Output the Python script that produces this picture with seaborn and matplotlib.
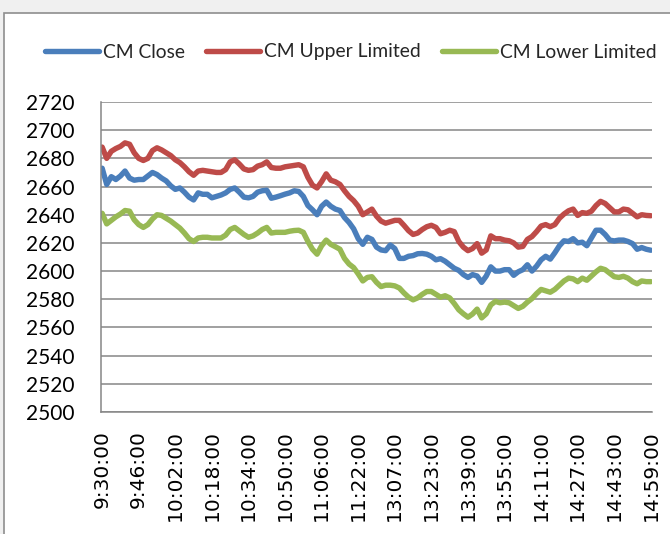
import numpy as np
import pandas as pd
import matplotlib
matplotlib.use("Agg")
import matplotlib.pyplot as plt
from matplotlib.lines import Line2D
from matplotlib.patches import Rectangle
import seaborn as sns

# --- category axis: one slot per trading minute, lunch break skipped ---
morning = pd.date_range("2000-01-01 09:30", "2000-01-01 11:30", freq="min")
afternoon = pd.date_range("2000-01-01 13:00", "2000-01-01 14:59", freq="min")
categories = [f"{t.hour}:{t.minute:02d}:00" for t in list(morning) + list(afternoon)]
label_step = 16    # a tick label every 16 minutes
sample_step = 2    # values every 2 minutes

# values, one per sample_step minutes
cm_close = [
    2673, 2661.5, 2667, 2665, 2667.5, 2671, 2666, 2664.5, 2665, 2665,
    2667.5, 2670, 2668.5, 2666, 2664, 2660.5, 2658, 2659, 2656, 2652.5,
    2650.5, 2655.5, 2654.5, 2654.5, 2652, 2653, 2654, 2655.5, 2658, 2659,
    2656, 2652.5, 2652, 2653, 2656, 2657, 2657.4, 2651.7, 2652.5, 2653.5,
    2654.6, 2655.5, 2657, 2656.5, 2653, 2646.5, 2643.5, 2640, 2646, 2649,
    2646, 2644, 2643, 2638, 2634.5, 2630, 2623, 2619, 2624, 2622.5,
    2617, 2615, 2614.5, 2618.5, 2616, 2609, 2609, 2610.5, 2611, 2612.3,
    2612.5, 2612, 2610.5, 2608, 2608.8, 2607, 2604.5, 2602, 2600.5, 2597.5,
    2595.5, 2597.5, 2596.5, 2592, 2596.5, 2603, 2600, 2600, 2601, 2601,
    2597, 2599.5, 2601, 2604.5, 2600, 2603.5, 2608, 2610.5, 2608.5, 2613,
    2618, 2621.5, 2621, 2623, 2620, 2620.5, 2618, 2623.5, 2629, 2629,
    2626, 2622, 2621.4, 2622, 2622, 2621, 2619.5, 2615.5, 2616.7, 2615.5,
    2614.8,
]
cm_upper = [
    2688, 2680, 2685, 2687, 2688.5, 2691, 2690, 2684, 2680, 2678.5,
    2680, 2685.5, 2687.5, 2686, 2684, 2682, 2679, 2677, 2674, 2670.5,
    2668, 2671, 2671.5, 2671, 2670.5, 2670, 2670, 2672, 2677.5, 2679,
    2676, 2672.5, 2671.5, 2672, 2674.5, 2675.5, 2677.5, 2673.5, 2673, 2673,
    2674, 2674.5, 2675, 2675.5, 2674, 2666.5, 2661, 2659, 2663.5, 2669,
    2664.5, 2663.4, 2661.5, 2657, 2653, 2650, 2646, 2640, 2642, 2644,
    2639, 2635.5, 2634, 2635, 2636, 2636, 2632.5, 2628.7, 2626, 2627,
    2629.5, 2631.5, 2632.5, 2631, 2626.5, 2627.5, 2629, 2628, 2621, 2617,
    2614.5, 2616, 2619.5, 2612.7, 2615, 2625, 2623, 2623, 2622, 2621.5,
    2620, 2617, 2617.5, 2622.5, 2624.5, 2628, 2632, 2633, 2631.5, 2633,
    2637.5, 2640.5, 2642.8, 2644, 2639.5, 2641.5, 2641, 2642.5, 2646.5, 2649.5,
    2648, 2645, 2642, 2642, 2644, 2643.5, 2641, 2638.5, 2640, 2639.5,
    2639.3,
]
cm_lower = [
    2641, 2633.5, 2636, 2638.5, 2640.5, 2643, 2642.5, 2636.5, 2633, 2631,
    2633, 2637, 2640, 2639.5, 2637.5, 2635.5, 2633, 2630.5, 2627, 2623,
    2621, 2623.5, 2624, 2624, 2623.5, 2623.5, 2623.5, 2625.5, 2629.5, 2631,
    2628.5, 2626, 2624, 2625, 2627, 2629.5, 2631, 2627, 2627.5, 2627.5,
    2627.5, 2628.3, 2628.8, 2629, 2627.5, 2621, 2615.5, 2612, 2618, 2622,
    2619, 2617.3, 2615.5, 2609, 2605, 2602.5, 2598, 2593, 2595.5, 2596,
    2592, 2589, 2590, 2590, 2589.5, 2588, 2584.5, 2581.5, 2579.6, 2581,
    2583.5, 2585.5, 2585.5, 2583.5, 2581.5, 2582.5, 2581, 2577, 2572.5, 2569.7,
    2567.3, 2569.5, 2573, 2566.8, 2569.7, 2576, 2578.5, 2577.5, 2578, 2577.5,
    2575.5, 2573.5, 2575, 2578, 2580.5, 2584, 2587, 2586, 2585, 2587,
    2590, 2593, 2595, 2594.5, 2592.5, 2595, 2593.5, 2596.5, 2599.5, 2602,
    2601, 2598.5, 2596, 2595.5, 2596.3, 2595, 2592.5, 2591, 2593, 2592.5,
    2592.5,
]

series_names = ["CM Close", "CM Upper Limited", "CM Lower Limited"]
series_colors = ["#4a7ebb", "#be4b48", "#98b954"]
y_ticks = list(range(2500, 2721, 20))

# --- build a long table for seaborn ---
positions = np.arange(0, len(categories), sample_step)
wide = pd.DataFrame({
    "pos": positions,
    "time": [categories[i] for i in positions],
    "CM Close": cm_close,
    "CM Upper Limited": cm_upper,
    "CM Lower Limited": cm_lower,
})
df = wide.melt(id_vars=["pos", "time"], var_name="series", value_name="value")

sns.set_style("white")
grey = "#868686"

fig = plt.figure(figsize=(6.7, 5.34), dpi=100, facecolor="#f0f0f0")
W, H = 670, 534
# white chart area with a grey border (cut off at right and bottom)
fig.patches.append(Rectangle((4 / W, -0.05), 1.1, 1.05 - 13 / H,
                             transform=fig.transFigure, facecolor="white",
                             edgecolor="#8e8e8e", linewidth=1.2, zorder=-1))

ax = fig.add_axes([101 / W, 1 - 412 / H, 551 / W, 310 / H])
ax.set_facecolor("white")

sns.lineplot(data=df, x="pos", y="value", hue="series", hue_order=series_names,
             palette=dict(zip(series_names, series_colors)), linewidth=3.9,
             legend=False, ax=ax, solid_capstyle="round", solid_joinstyle="round")

ax.set_xlim(-0.5, len(categories) - 0.5)
ax.set_ylim(y_ticks[0], y_ticks[-1])
ax.set_xlabel("")
ax.set_ylabel("")

# y axis
ax.set_yticks(y_ticks)
ax.yaxis.grid(True, color=grey, linewidth=1.1)
ax.xaxis.grid(False)
ax.tick_params(axis="y", direction="out", length=6, width=1.1, color=grey,
               pad=13, labelsize=15, labelcolor="black")
for lab in ax.get_yticklabels():
    lab.set_fontfamily("Lato")

# x axis: a tick mark for every minute, a label every 16
label_pos = list(range(0, len(categories), label_step))
ax.set_xticks(label_pos)
ax.set_xticklabels([categories[i] for i in label_pos], rotation=90,
                   fontsize=14.5, fontfamily="DejaVu Sans", va="top")
ax.set_xticks(np.arange(-0.5, len(categories)), minor=True)
ax.tick_params(axis="x", which="major", length=0, pad=13, labelcolor="black")
ax.tick_params(axis="x", which="minor", direction="out", length=6.5, width=1.0,
               color=grey)

for side in ["top", "right"]:
    ax.spines[side].set_visible(False)
for side in ["left", "bottom"]:
    ax.spines[side].set_color(grey)
    ax.spines[side].set_linewidth(1.1)

# legend across the top
handles = [Line2D([], [], color=c, linewidth=3.9, solid_capstyle="round")
           for c in series_colors]
fig.legend(handles, series_names, loc="center left",
           bbox_to_anchor=(45 / W, 1 - 52 / H), ncol=3, frameon=False,
           prop={"family": "Lato", "size": 13.9}, handlelength=2.8,
           handletextpad=0.2, columnspacing=1.1, borderpad=0,
           borderaxespad=0)

fig.savefig("out.png", dpi=100, facecolor=fig.get_facecolor())
